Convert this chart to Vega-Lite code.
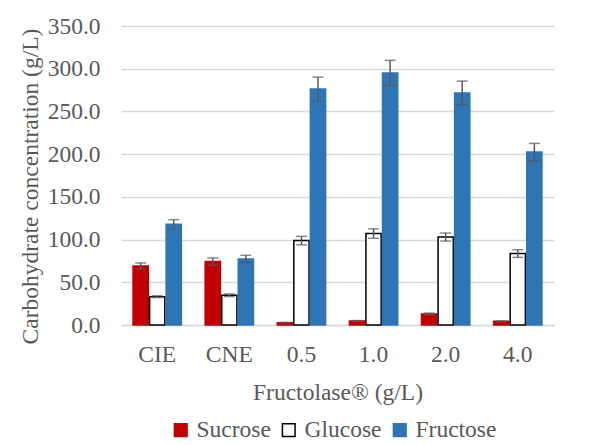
{
  "$schema": "https://vega.github.io/schema/vega-lite/v6.json",
  "autosize": "none",
  "width": 433,
  "height": 299,
  "padding": {"left": 121, "top": 26, "right": 35, "bottom": 120},
  "background": "white",
  "data": {
    "values": [
      {"cat": "CIE", "sugar": "Sucrose", "value": 69.1, "lo": 65.6, "hi": 72.6},
      {"cat": "CIE", "sugar": "Glucose", "value": 33.2, "lo": 32.2, "hi": 34.2},
      {"cat": "CIE", "sugar": "Fructose", "value": 118.0, "lo": 112.7, "hi": 123.3},
      {"cat": "CNE", "sugar": "Sucrose", "value": 74.2, "lo": 69.9, "hi": 78.5},
      {"cat": "CNE", "sugar": "Glucose", "value": 34.8, "lo": 33.3, "hi": 36.3},
      {"cat": "CNE", "sugar": "Fructose", "value": 77.3, "lo": 73.0, "hi": 81.6},
      {"cat": "0.5", "sugar": "Sucrose", "value": 2.7, "lo": 2.3, "hi": 3.1},
      {"cat": "0.5", "sugar": "Glucose", "value": 98.8, "lo": 93.8, "hi": 103.8},
      {"cat": "0.5", "sugar": "Fructose", "value": 276.2, "lo": 262.2, "hi": 290.2},
      {"cat": "1.0", "sugar": "Sucrose", "value": 4.7, "lo": 4.2, "hi": 5.2},
      {"cat": "1.0", "sugar": "Glucose", "value": 107.0, "lo": 101.5, "hi": 112.5},
      {"cat": "1.0", "sugar": "Fructose", "value": 295.0, "lo": 280.2, "hi": 309.8},
      {"cat": "2.0", "sugar": "Sucrose", "value": 12.9, "lo": 11.9, "hi": 13.9},
      {"cat": "2.0", "sugar": "Glucose", "value": 103.0, "lo": 98.3, "hi": 107.7},
      {"cat": "2.0", "sugar": "Fructose", "value": 271.5, "lo": 257.5, "hi": 285.5},
      {"cat": "4.0", "sugar": "Sucrose", "value": 4.3, "lo": 3.8, "hi": 4.8},
      {"cat": "4.0", "sugar": "Glucose", "value": 83.6, "lo": 79.1, "hi": 88.1},
      {"cat": "4.0", "sugar": "Fructose", "value": 202.4, "lo": 192.2, "hi": 212.6}
    ]
  },
  "encoding": {
    "x": {
      "field": "cat",
      "type": "nominal",
      "sort": ["CIE", "CNE", "0.5", "1.0", "2.0", "4.0"],
      "scale": {"paddingInner": 0.33, "paddingOuter": 0.167},
      "axis": {
        "title": "Fructolase® (g/L)",
        "labelAngle": 0,
        "ticks": false,
        "domainColor": "#D9D9D9",
        "domainWidth": 1.5,
        "labelBaseline": "alphabetic",
        "labelPadding": 36,
        "titleBaseline": "alphabetic",
        "titleY": 74
      }
    },
    "xOffset": {
      "field": "sugar",
      "type": "nominal",
      "sort": ["Sucrose", "Glucose", "Fructose"],
      "scale": {"paddingInner": 0.08, "paddingOuter": 0}
    },
    "y": {
      "field": "value",
      "type": "quantitative",
      "scale": {"domain": [0, 350], "nice": false},
      "axis": {
        "title": "Carbohydrate concentration (g/L)",
        "values": [0, 50, 100, 150, 200, 250, 300, 350],
        "format": ".1f",
        "domain": false,
        "ticks": false,
        "gridColor": "#D9D9D9",
        "gridWidth": 1.5,
        "labelPadding": 21,
        "titleBaseline": "alphabetic",
        "titleAngle": -90,
        "titleAlign": "center",
        "titleX": -83.5,
        "titleY": 160
      }
    }
  },
  "layer": [
    {
      "mark": {"type": "bar", "strokeWidth": 1.5},
      "encoding": {
        "color": {
          "field": "sugar",
          "type": "nominal",
          "sort": ["Sucrose", "Glucose", "Fructose"],
          "scale": {"domain": ["Sucrose", "Glucose", "Fructose"], "range": ["#C00000", "#FFFFFF", "#2E75B6"]},
          "legend": {
            "title": null,
            "orient": "none",
            "direction": "horizontal",
            "legendX": 48,
            "legendY": 392,
            "symbolType": "square",
            "symbolSize": 160,
            "symbolStrokeWidth": 1.5,
            "labelOffset": 4,
            "columnPadding": 6,
            "padding": 0
          }
        },
        "stroke": {
          "field": "sugar",
          "type": "nominal",
          "sort": ["Sucrose", "Glucose", "Fructose"],
          "scale": {"domain": ["Sucrose", "Glucose", "Fructose"], "range": ["#C00000", "#000000", "#2E75B6"]},
          "legend": {
            "title": null,
            "orient": "none",
            "direction": "horizontal",
            "legendX": 48,
            "legendY": 392,
            "symbolType": "square",
            "symbolSize": 160,
            "symbolStrokeWidth": 1.5,
            "labelOffset": 4,
            "columnPadding": 6,
            "padding": 0
          }
        }
      }
    },
    {
      "mark": {"type": "rule", "color": "#595959", "strokeWidth": 1.5},
      "encoding": {
        "y": {"field": "lo", "type": "quantitative"},
        "y2": {"field": "hi"}
      }
    },
    {
      "mark": {"type": "tick", "color": "#595959", "thickness": 1.5, "size": 11},
      "encoding": {
        "y": {"field": "lo", "type": "quantitative"}
      }
    },
    {
      "mark": {"type": "tick", "color": "#595959", "thickness": 1.5, "size": 11},
      "encoding": {
        "y": {"field": "hi", "type": "quantitative"}
      }
    }
  ],
  "config": {
    "view": {"stroke": null},
    "font": "Liberation Serif, Times New Roman, DejaVu Serif, serif",
    "axis": {
      "labelFont": "Liberation Serif, Times New Roman, DejaVu Serif, serif",
      "labelFontSize": 23.5,
      "labelColor": "#595959",
      "titleFont": "Liberation Serif, Times New Roman, DejaVu Serif, serif",
      "titleFontSize": 23.5,
      "titleColor": "#595959",
      "titleFontWeight": "normal"
    },
    "legend": {
      "labelFont": "Liberation Serif, Times New Roman, DejaVu Serif, serif",
      "labelFontSize": 23.5,
      "labelColor": "#595959"
    }
  }
}
